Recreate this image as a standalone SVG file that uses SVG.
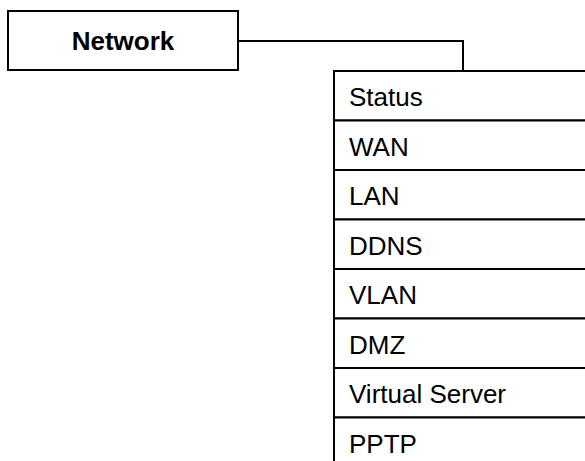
<svg xmlns="http://www.w3.org/2000/svg" width="585" height="461" viewBox="0 0 585 461">
  <style>
    .box { fill: #ffffff; stroke: #000000; stroke-width: 2; }
    .link { fill: none; stroke: #000000; stroke-width: 2; }
    .title { font-family: "Liberation Sans", Arial, sans-serif; font-size: 26px; font-weight: bold; fill: #000000; }
    .item { font-family: "Liberation Sans", Arial, sans-serif; font-size: 26px; fill: #000000; }
  </style>
  <rect width="585" height="461" fill="#ffffff"/>

  <!-- connector from the Network box to the submenu list -->
  <g id="connectors">
    <polyline class="link" points="238,41 463,41 463,71"/>
  </g>

  <g id="network">
    <rect class="box" x="8" y="11" width="230" height="59"/>
    <text class="title" x="123" y="50" text-anchor="middle">Network</text>
  </g>

  <!-- submenu list; right edge runs off the canvas -->
  <g id="status">
    <rect class="box" x="334" y="71" width="260" height="49.5"/>
    <text class="item" x="349" y="106">Status</text>
  </g>
  <g id="wan">
    <rect class="box" x="334" y="120.5" width="260" height="49.5"/>
    <text class="item" x="349" y="155.5">WAN</text>
  </g>
  <g id="lan">
    <rect class="box" x="334" y="170" width="260" height="49.5"/>
    <text class="item" x="349" y="205">LAN</text>
  </g>
  <g id="ddns">
    <rect class="box" x="334" y="219.5" width="260" height="49.5"/>
    <text class="item" x="349" y="254.5">DDNS</text>
  </g>
  <g id="vlan">
    <rect class="box" x="334" y="269" width="260" height="49.5"/>
    <text class="item" x="349" y="304">VLAN</text>
  </g>
  <g id="dmz">
    <rect class="box" x="334" y="318.5" width="260" height="49.5"/>
    <text class="item" x="349" y="353.5">DMZ</text>
  </g>
  <g id="virtual-server">
    <rect class="box" x="334" y="368" width="260" height="49.5"/>
    <text class="item" x="349" y="403">Virtual Server</text>
  </g>
  <g id="pptp">
    <rect class="box" x="334" y="417.5" width="260" height="49.5"/>
    <text class="item" x="349" y="452.5">PPTP</text>
  </g>
</svg>
